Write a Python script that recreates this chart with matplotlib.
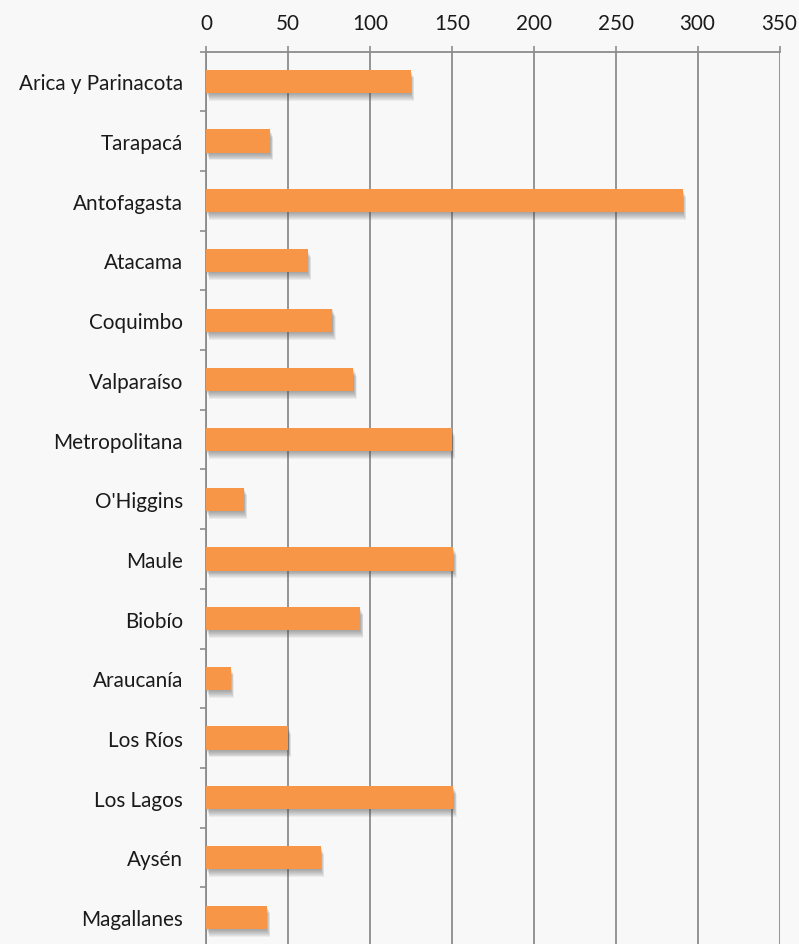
import matplotlib
matplotlib.use("Agg")
import matplotlib.pyplot as plt
import matplotlib.patheffects as pe
import numpy as np

regions = ["Arica y Parinacota", "Tarapacá", "Antofagasta", "Atacama", "Coquimbo",
           "Valparaíso", "Metropolitana", "O'Higgins", "Maule", "Biobío",
           "Araucanía", "Los Ríos", "Los Lagos", "Aysén", "Magallanes"]
values = [125, 39, 291, 62, 77, 90, 150, 23, 151, 94, 15, 50, 151, 70, 37]
xticks = [0, 50, 100, 150, 200, 250, 300, 350]

plt.rcParams['font.family'] = ['Lato', 'DejaVu Sans']

fig = plt.figure(figsize=(7.99, 9.45), dpi=100)
fig.patch.set_facecolor('#f8f8f8')
W, H = 799, 945
left, right, top, bottom = 206, 779.5, 52.5, 948
ax = fig.add_axes([left / W, 1 - bottom / H, (right - left) / W, (bottom - top) / H])
ax.set_facecolor('#f8f8f8')

y = np.arange(len(regions))
bars = ax.barh(y, values, height=0.39, color='#F79646', zorder=3)
shadow = [pe.SimplePatchShadow(offset=(0.3 * i, -0.7 * i), shadow_rgbFace='#505050', alpha=0.075)
          for i in range(1, 9)]
for b in bars:
    b.set_path_effects(shadow + [pe.Normal()])

ax.set_xlim(0, 350)
ax.set_ylim(len(regions) - 0.5, -0.5)
ax.xaxis.tick_top()
ax.set_xticks(xticks)
ax.set_xticklabels([str(t) for t in xticks], fontsize=14.9, color='#1a1a1a')
ax.tick_params(axis='x', direction='out', length=4.3, width=1.2, color='#8c8c8c', pad=9)
ax.grid(axis='x', color='#8c8c8c', linewidth=1.3, zorder=0)

ax.set_yticks(y)
ax.set_yticklabels(regions, fontsize=14.9, color='#1a1a1a')
ax.tick_params(axis='y', which='major', length=0, pad=16.5)
ax.set_yticks(np.arange(-0.5, len(regions), 1), minor=True)
ax.tick_params(axis='y', which='minor', direction='out', length=4.5, width=1.2, color='#8c8c8c')

for s in ['right', 'bottom']:
    ax.spines[s].set_visible(False)
for s in ['top', 'left']:
    ax.spines[s].set_color('#8c8c8c')
    ax.spines[s].set_linewidth(1.3)

fig.savefig('out.png', dpi=100, facecolor=fig.get_facecolor())
